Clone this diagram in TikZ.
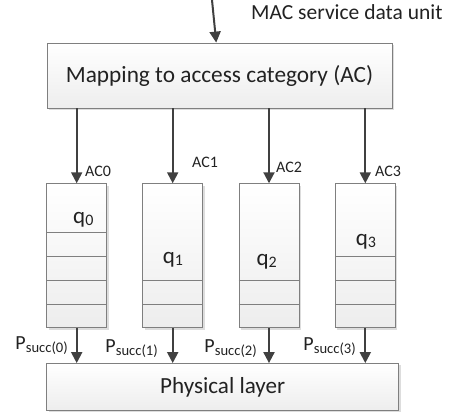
\documentclass[tikz,border=0pt]{standalone}
\usepackage{fontspec}
\setmainfont{Carlito}
\usetikzlibrary{arrows.meta}
\usetikzlibrary{shadows}

\definecolor{arrowgray}{HTML}{404040}
\definecolor{edgegray}{HTML}{7F7F7F}
\definecolor{textgray}{HTML}{222222}

% lowered, smaller text for the subscripts
\newcommand{\lowsub}[3]{\raisebox{#1}{\fontsize{#2}{#2}\selectfont #3}}

\begin{document}
\begin{tikzpicture}[x=1pt,y=-1pt,
    box/.style={draw=edgegray, line width=0.8pt, top color=white, bottom color=gray!14,
        drop shadow={shadow xshift=2pt, shadow yshift=-2pt, fill=gray!45, opacity=0.6},
        inner sep=0pt, text=textgray},
    queue/.style={box, minimum width=60pt, minimum height=144pt},
    cell/.style={draw=edgegray, line width=0.8pt},
    arr/.style={draw=arrowgray, line width=2pt, -{Triangle[width=11pt,length=11pt]}},
    qlab/.style={font=\fontsize{23}{26}\selectfont, anchor=base west, inner sep=0pt, text=textgray},
    aclab/.style={font=\fontsize{16}{18}\selectfont, anchor=base west, inner sep=0pt, text=textgray},
    plab/.style={font=\fontsize{20}{22}\selectfont, anchor=base east, inner sep=0pt, text=textgray}]
    \useasboundingbox (0,0) rectangle (458,419);

    \draw (212,0) coordinate (in);
    \draw (251,19.3) node [anchor=base west, inner sep=0pt, text=textgray, font=\fontsize{21.5}{24}\selectfont] (msdu) {MAC service data unit};
    \draw (219.5,75.5) node [box, font=\fontsize{23.3}{26}\selectfont, minimum width=345pt, minimum height=65pt] (map) {Mapping to access category (AC)};

    \draw (76.7,255.7) node [queue] (q0) {};
    \draw (172.7,255.7) node [queue] (q1) {};
    \draw (269,255.7) node [queue] (q2) {};
    \draw (365.3,255.7) node [queue] (q3) {};

    % cells at the bottom of each queue
    \foreach \k in {1,...,4} \draw[cell] ([yshift=\k*24pt]q0.south west) -- ([yshift=\k*24pt]q0.south east);
    \foreach \k in {1,2} \draw[cell] ([yshift=\k*24pt]q1.south west) -- ([yshift=\k*24pt]q1.south east);
    \foreach \k in {1,2} \draw[cell] ([yshift=\k*24pt]q2.south west) -- ([yshift=\k*24pt]q2.south east);
    \foreach \k in {1,...,3} \draw[cell] ([yshift=\k*24pt]q3.south west) -- ([yshift=\k*24pt]q3.south east);

    \draw (73,224) node [qlab] (l0) {q\lowsub{-2pt}{16}{0}};
    \draw (162.7,264) node [qlab] (l1) {q\lowsub{-2pt}{16}{1}};
    \draw (256.3,266) node [qlab] (l2) {q\lowsub{-2pt}{16}{2}};
    \draw (355.7,246) node [qlab] (l3) {q\lowsub{-2pt}{16}{3}};

    \draw (222.7,387) node [box, font=\fontsize{23.1}{26}\selectfont, minimum width=352pt, minimum height=47pt] (phy) {Physical layer};

    \draw[arr] (in) -- (map);

    \draw[arr] (map.south -| q0) -- (q0.north);
    \draw[arr] (map.south -| q1) -- (q1.north);
    \draw[arr] (map.south -| q2) -- (q2.north);
    \draw[arr] (map.south -| q3) -- (q3.north);
    \draw (85,176.7) node [aclab] (ac0) {AC0};
    \draw (192,168) node [aclab] (ac1) {AC1};
    \draw (276,173) node [aclab] (ac2) {AC2};
    \draw (375,177) node [aclab] (ac3) {AC3};

    \draw[arr] (q0.south) -- (phy.north -| q0);
    \draw[arr] (q1.south) -- (phy.north -| q1);
    \draw[arr] (q2.south) -- (phy.north -| q2);
    \draw[arr] (q3.south) -- (phy.north -| q3);
    \draw (68,350) node [plab] (p0) {P\lowsub{-2.5pt}{14.6}{succ(0)}};
    \draw (158,353) node [plab] (p1) {P\lowsub{-2.5pt}{14.6}{succ(1)}};
    \draw (257,353) node [plab] (p2) {P\lowsub{-2.5pt}{14.6}{succ(2)}};
    \draw (356,351) node [plab] (p3) {P\lowsub{-2.5pt}{14.6}{succ(3)}};
\end{tikzpicture}
\end{document}
